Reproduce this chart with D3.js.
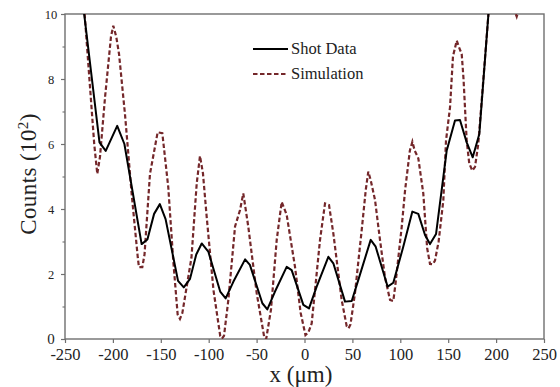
<!DOCTYPE html>
<html>
<head>
<meta charset="utf-8">
<script src="https://cdn.jsdelivr.net/npm/d3@7"></script>
<style>
  body { margin: 0; background: #fff; }
</style>
</head>
<body>
<svg id="main" width="560" height="387"></svg>
<script>
const width = 560;
const height = 387;
const margin = {top: 14, right: 16, bottom: 48, left: 65};
const serif = '"Liberation Serif", "DejaVu Serif", serif'

// shot data (x in um, counts in 10^2)
const shotX = [-230, -214, -207.5, -195.5, -188, -170, -164, -157, -151, -145, -132, -126, -119.5, -113,
  -107.3, -100.4, -88, -82.3, -74.3, -62, -57, -44, -38.8, -30.8, -18.6, -13.4, -1.2, 4.7, 12.7,
  24.9, 30.1, 42.3, 49.3, 56.2, 69.1, 74.3, 86.8, 92.7, 103.1, 112.6, 118.8, 125.8, 131, 137.3,
  148.4, 157.1, 162.3, 169.3, 175.6, 182.5, 192]
const shotY = [10, 6.05, 5.79, 6.56, 6.0, 2.92, 3.06, 3.85, 4.15, 3.69, 1.79, 1.59, 1.85, 2.6,
  2.94, 2.69, 1.46, 1.25, 1.76, 2.45, 2.28, 1.10, 0.91, 1.46, 2.22, 2.12, 1.05, 0.94, 1.61,
  2.53, 2.33, 1.15, 1.17, 1.82, 3.05, 2.84, 1.61, 1.73, 2.84, 3.92, 3.85, 3.2, 2.92, 3.23,
  5.79, 6.72, 6.74, 6.05, 5.59, 6.31, 10]

// simulation
const simX = [-229.5, -219.5, -216.3, -213.5, -208.2, -202, -199.6, -196.5, -193.6, -187.4, -180.4, -174,
  -172.8, -169.3, -167, -161.3, -153.3, -148.4, -142.2, -137, -132.4, -130, -127.5, -118, -112.5,
  -109.1, -106, -102.1, -95, -88, -86, -84, -79.5, -72.5, -67.3, -63.9, -58.7, -49.9, -42, -40,
  -35, -29, -23.8, -18.6, -9.9, -4, 1, 4, 7.5, 16.2, 21.4, 25.6, 30.1, 38.8, 44, 46, 48, 52.7,
  59.7, 64, 66.6, 69, 73.6, 78.8, 84, 89.3, 92.7, 95, 101.5, 105, 110, 112.6, 115, 118.8, 124,
  128, 131, 134, 136.2, 140, 144.9, 147.7, 151.9, 155, 158.9, 161, 164.1, 166, 169.3, 172, 175.2,
  178, 181.4, 186.6, 192, 200, 214, 221.5, 228, 240]
const simY = [10, 6.0, 5.08, 5.6, 7.44, 9.3, 9.64, 9.3, 8.77, 6.92, 4.46, 2.5,
  2.21, 2.21, 2.6, 5.08, 6.36, 6.33, 4.67, 2.41, 0.75, 0.62, 0.8, 2.5, 4.79,
  5.63, 5.1, 3.76, 1.5, 0.1, 0.02, 0.1, 1.2, 3.46, 3.97, 4.48, 3.46, 1.41, 0.05, 0.0,
  0.9, 3.05, 4.22, 3.82, 2.22, 0.8, 0.12, 0.2, 0.48, 3.05, 4.17, 4.12, 3.25, 1.2, 0.4, 0.33, 0.45, 1.41,
  3.35, 4.6, 5.15, 4.9, 4.28, 3.05, 1.9, 1.2, 1.17, 1.7, 3.46, 4.58, 5.8, 6.07, 5.8, 5.56, 4.48,
  2.8, 2.31, 2.3, 2.41, 3.0, 4.26, 6.1, 7.13, 8.7, 9.18, 9.0, 8.77, 8.0, 6.1, 5.4, 5.18,
  5.3, 6.0, 7.95, 10, 11.5, 10.5, 9.92, 10.5, 12]

const xTicks = [-250, -200, -150, -100, -50, 0, 50, 100, 150, 200, 250]
const yTicks = [0, 2, 4, 6, 8, 10]
const yMinor = [1, 3, 5, 7, 9]
const legendLabels = ['Shot Data', 'Simulation']

const svg = d3.select('#main').style('font-family', serif)
const x = d3.scaleLinear().domain([-250, 250]).range([margin.left, width - margin.right])
const y = d3.scaleLinear().domain([0, 10]).range([height - margin.bottom, margin.top])

svg.append('clipPath').attr('id', 'plot-clip')
  .append('rect')
  .attr('x', x(-250)).attr('y', y(10))
  .attr('width', x(250) - x(-250)).attr('height', y(0) - y(10))

const axisColor = '#6f6f6f'
const textColor = '#222'

// x axis
const gx = svg.append('g')
  .attr('transform', `translate(0, ${y(0)})`)
  .call(d3.axisBottom(x).tickValues(xTicks).tickSize(4).tickPadding(5).tickFormat(d => d < 0 ? '-' + Math.abs(d) : d))
gx.attr('font-family', null)
gx.select('.domain').remove()
gx.selectAll('line').attr('stroke', axisColor).attr('stroke-width', 1.2)
gx.selectAll('text').style('font-size', '16.5px').style('font-family', serif).attr('fill', textColor)

// y axis
const gy = svg.append('g')
  .attr('transform', `translate(${x(-250)}, 0)`)
  .call(d3.axisLeft(y).tickValues(yTicks).tickSize(4).tickPadding(8).tickFormat(d3.format('d')))
gy.attr('font-family', null)
gy.select('.domain').remove()
gy.selectAll('line').attr('stroke', axisColor).attr('stroke-width', 1.2)
gy.selectAll('text')
  .attr('text-anchor', 'middle').attr('x', -14)
  .style('font-size', d => d === 0 ? '15px' : '12.5px')
  .style('font-family', serif).attr('fill', textColor)

const gyMinor = svg.append('g')
  .attr('transform', `translate(${x(-250)}, 0)`)
  .call(d3.axisLeft(y).tickValues(yMinor).tickSize(2.5).tickFormat(''))
gyMinor.select('.domain').remove()
gyMinor.selectAll('line').attr('stroke', axisColor).attr('stroke-width', 1.1)

// frame
svg.append('rect')
  .attr('x', x(-250)).attr('y', y(10))
  .attr('width', x(250) - x(-250)).attr('height', y(0) - y(10))
  .attr('fill', 'none').attr('stroke', axisColor).attr('stroke-width', 1.4)

// lines
const line = d3.line().x(d => x(d[0])).y(d => y(d[1]))
const plot = svg.append('g').attr('clip-path', 'url(#plot-clip)')

const simColor = '#74272a'
plot.append('path')
  .datum(d3.zip(simX, simY))
  .attr('d', line)
  .attr('fill', 'none')
  .attr('stroke', simColor)
  .attr('stroke-width', 2.2)
  .attr('stroke-dasharray', '4.5,2.5')

plot.append('path')
  .datum(d3.zip(shotX, shotY))
  .attr('d', line)
  .attr('fill', 'none')
  .attr('stroke', '#000')
  .attr('stroke-width', 2)
  .attr('stroke-linejoin', 'round')

// legend
const legend = svg.append('g').attr('transform', 'translate(253, 49)')
legendLabels.forEach((label, i) => {
  const row = legend.append('g').attr('transform', `translate(0, ${i * 25})`)
  row.append('line')
    .attr('x1', 0).attr('x2', 35).attr('y1', 0).attr('y2', 0)
    .attr('stroke', i === 0 ? '#000' : simColor)
    .attr('stroke-width', i === 0 ? 2 : 2.2)
    .attr('stroke-dasharray', i === 0 ? null : '4.5,2.5')
  row.append('text')
    .attr('x', 38).attr('y', 5)
    .style('font-family', serif)
    .style('font-size', '16.5px')
    .attr('fill', textColor)
    .text(label)
})

// axis titles
svg.append('text')
  .attr('x', 301).attr('y', 382)
  .attr('text-anchor', 'middle')
  .style('font-family', serif)
  .style('font-size', '23px')
  .attr('fill', textColor)
  .text('x (\u03bcm)')

const ylab = svg.append('text')
  .attr('transform', 'translate(36, 174) rotate(-90)')
  .attr('text-anchor', 'middle')
  .style('font-family', serif)
  .style('font-size', '23px')
  .style('letter-spacing', '0.4px')
  .attr('fill', textColor)
ylab.append('tspan').text('Counts (10')
ylab.append('tspan').attr('dy', -8).style('font-size', '15px').text('2')
ylab.append('tspan').attr('dy', 8).text(')')
</script>
</body>
</html>
